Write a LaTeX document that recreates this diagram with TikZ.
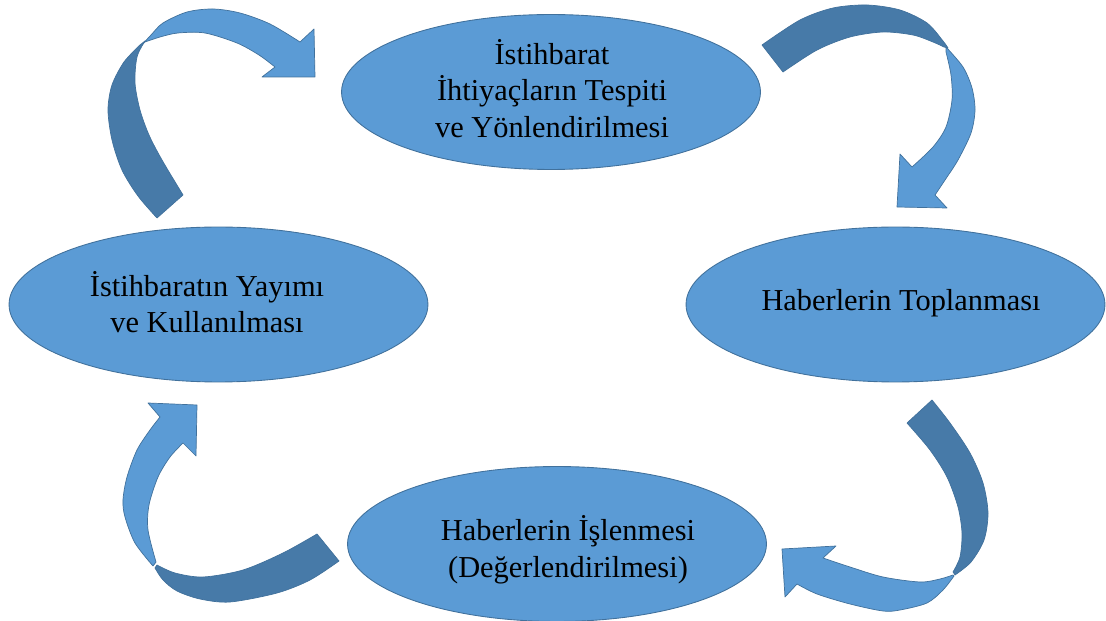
\documentclass[tikz,border=0pt]{standalone}
\usepackage{fontspec}
\setmainfont{Liberation Serif}
\usetikzlibrary{shapes.geometric}
\definecolor{cyclelight}{RGB}{91,155,213}
\definecolor{cycledark}{RGB}{71,122,168}
\definecolor{cycleedge}{RGB}{65,113,156}

\begin{document}
\begin{tikzpicture}[x=0.02cm,y=-0.02cm,line join=round,
  stage/.style={ellipse,fill=cyclelight,draw=cycleedge,line width=0.5pt,minimum width=8.38cm,minimum height=3.1cm,inner sep=0pt},
  caption/.style={align=center,inner sep=0pt,font=\fontsize{17.3}{20.8}\selectfont},
  bandfront/.style={fill=cyclelight,draw=cycleedge,line width=0.4pt},
  bandback/.style={fill=cycledark,draw=cycleedge,line width=0.4pt}]
\useasboundingbox (0,0) rectangle (1106,621);
\node[stage] (ihtiyac) at (551,92) {};
\node[stage] (toplama) at (895.5,304.5) {};
\node[stage] (isleme) at (557,544) {};
\node[stage] (yayim) at (218.5,304.5) {};
\node[caption] (ihtiyactext) at (552,88.5) {İstihbarat\\İhtiyaçların Tespiti\\ve Yönlendirilmesi};
\node[caption] (toplamatext) at (901,303) {Haberlerin Toplanması};
\node[caption] (islemetext) at (568,549.5) {Haberlerin İşlenmesi\\(Değerlendirilmesi)};
\node[caption] (yayimtext) at (207,302) {İstihbaratın Yayımı\\ve Kullanılması};
\filldraw[bandfront] plot[smooth] coordinates {(140,47) (151,35) (163,23) (187,12) (213,9) (240,13) (270,24) (300,42)} -- (314,29) -- (315,77) -- (262,77) -- plot[smooth] coordinates {(275,67) (259,55) (237,43) (205,33) (178,33) (160,37) (145,42)} -- cycle;
\filldraw[bandback] plot[smooth] coordinates {(157,218) (138,196) (122,170) (112,140) (108,110) (112,85) (124,62) (140,45)} -- plot[smooth] coordinates {(145,41) (137,57) (135,83) (140,110) (149,135) (162,160) (183,195)} -- cycle;
\filldraw[bandfront] plot[smooth] coordinates {(946,47) (963,67) (972,88) (975,110) (971,133) (958,160) (945,180) (935,195)} -- (947,208) -- (897,207) -- (900,154) -- plot[smooth] coordinates {(912,167) (933,147) (946,127) (952,100) (951,75) (946,52)} -- cycle;
\filldraw[bandback] plot[smooth] coordinates {(762,45) (800,20) (833,8) (867,5) (900,10) (927,23) (943,41) (948,48)} -- plot[smooth] coordinates {(944,47) (933,42) (913,35) (883,32) (850,37) (817,50) (783,72)} -- cycle;
\filldraw[bandfront] plot[smooth] coordinates {(954,576) (943,590) (927,603) (900,610) (883,611) (850,604) (817,594) (797,584)} -- (785,597) -- (782,549) -- (836,546) -- plot[smooth] coordinates {(823,558) (850,567) (883,577) (920,582) (940,579) (953,575)} -- cycle;
\filldraw[bandback] plot[smooth] coordinates {(932,400) (950,423) (970,453) (983,483) (988,513) (984,540) (971,562) (955,575)} -- plot[smooth] coordinates {(953,572) (960,557) (962,533) (958,507) (947,477) (930,450) (907,423)} -- cycle;
\filldraw[bandfront] plot[smooth] coordinates {(153,566) (135,543) (125,517) (123,500) (127,477) (137,450) (150,430) (160,417)} -- (148,403) -- (197,405) -- (196,456) -- plot[smooth] coordinates {(183,443) (170,457) (158,477) (149,505) (148,530) (156,562)} -- cycle;
\filldraw[bandback] plot[smooth] coordinates {(317,534) (283,553) (243,570) (203,577) (175,573) (157,565)} -- plot[smooth] coordinates {(155,568) (163,580) (177,591) (200,599) (230,602) (277,593) (310,580) (339,561)} -- cycle;
\end{tikzpicture}
\end{document}
